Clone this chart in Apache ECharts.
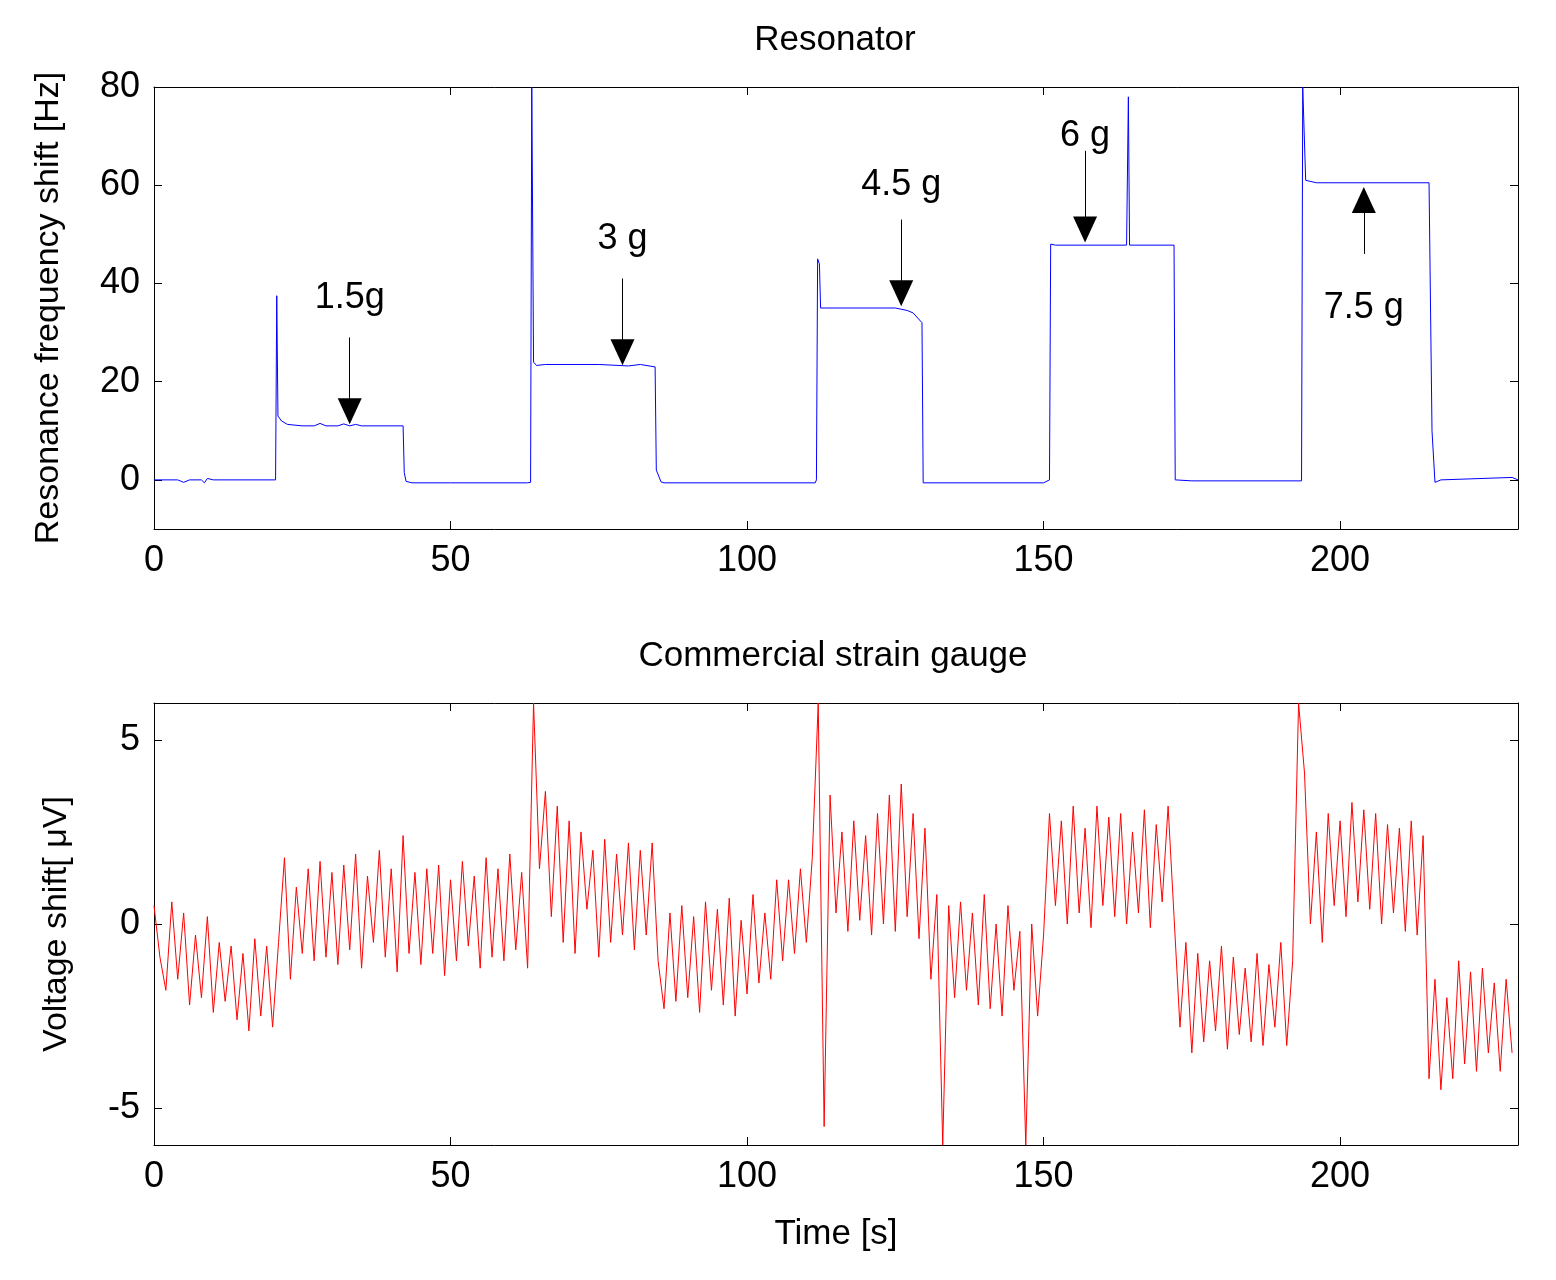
<!DOCTYPE html>
<html>
<head>
<meta charset="UTF-8">
<script src="https://cdn.jsdelivr.net/npm/echarts@6/dist/echarts.min.js"></script>
<style>body{margin:0;background:#fff}#c{width:1556px;height:1280px}</style>
</head>
<body>
<div id="c"></div>
<script>
// resonator frequency shift [t, Hz]
const resonator = [[0,0],[4,0],[5,-0.5],[6,0],[8,0],[8.5,-0.6],[9,0.3],[10,0],[20.5,0],[20.7,37.5],[20.9,13],[21.5,12],[22.5,11.3],[25,11],[27,11],[28,11.5],[29,11],[31,11],[32,11.4],[33,11],[34,11.3],[35,11],[42,11],[42.2,1.5],[42.5,-0.3],[43.5,-0.6],[50,-0.6],[63,-0.6],[63.5,-0.5],[63.7,80],[64,24],[64.5,23.3],[66,23.5],[75,23.5],[80,23.2],[82,23.5],[84.5,23],[84.7,2],[85.5,-0.4],[86,-0.6],[100,-0.6],[111.5,-0.6],[111.7,0],[111.9,45],[112.2,44],[112.4,35],[125,35],[127,34.5],[128,34],[129.5,32],[129.7,-0.6],[150,-0.6],[151,0],[151.2,48],[152,47.8],[164,47.8],[164.3,78],[164.5,47.8],[172,47.8],[172.2,0],[175,-0.2],[193.5,-0.2],[193.7,80],[194.2,61],[196,60.5],[215,60.5],[215.5,10],[216,-0.5],[217,0],[229,0.5],[230,0]];
// strain gauge voltage, one value per second from t=0
const gauge = [0.5,-0.9,-1.8,0.6,-1.5,0.3,-2.2,-0.3,-2.0,0.2,-2.4,-0.5,-2.1,-0.6,-2.6,-0.8,-2.9,-0.4,-2.5,-0.6,-2.8,
-0.5,1.8,-1.5,1.0,-0.8,1.5,-1.0,1.7,-0.9,1.4,-1.1,1.6,-0.7,1.9,-1.2,1.3,-0.5,2.0,-0.9,1.5,-1.3,2.4,-0.8,
1.4,-1.1,1.5,-0.8,1.6,-1.4,1.2,-1.0,1.7,-0.6,1.3,-1.2,1.8,-0.9,1.5,-1.0,1.9,-0.7,1.4,-1.2,
6,
1.5,3.6,0.2,3.2,-0.5,2.8,-0.8,2.5,0.4,2.0,-0.9,2.3,-0.5,1.9,-0.3,2.2,-0.7,2.0,-0.3,2.2,
-1.0,-2.3,0.3,-2.1,0.5,-2.0,0.2,-2.4,0.6,-1.8,0.4,-2.2,0.7,-2.5,0.1,-1.9,0.8,-1.6,0.3,-1.5,1.2,-1.0,1.2,-0.8,1.5,-0.5,1.8,
6,-5.5,
3.5,0.3,2.5,-0.2,2.8,0.1,2.4,-0.3,3.0,0.0,3.5,-0.2,3.8,0.2,3.0,-0.4,2.6,
-1.5,0.8,-6,0.5,-2.0,0.6,-1.8,0.3,-2.2,0.8,-2.3,0.0,-2.5,0.5,-1.8,-0.2,-6,0.0,-2.5,-0.3,
3.0,0.5,2.8,0.0,3.2,0.3,2.6,-0.1,3.2,0.5,2.9,0.2,3.0,0.0,2.5,0.3,3.1,-0.1,2.7,0.6,3.2,0.2,
-2.8,-0.5,-3.5,-0.8,-3.2,-1.0,-2.9,-0.6,-3.4,-0.9,-3.0,-1.2,-3.2,-0.8,-3.3,-1.1,-2.8,-0.5,-3.3,-1.0,
6,
4.1,0.0,2.5,-0.5,3.0,0.5,2.8,0.2,3.3,0.6,3.1,0.4,3.0,0.0,2.7,0.3,2.6,-0.2,2.8,-0.3,2.4,
-4.2,-1.5,-4.5,-2.0,-4.2,-1.0,-3.8,-1.3,-4.0,-1.2,-3.5,-1.6,-4.0,-1.5,-3.5];
// annotations: label, x, arrow from y, arrow to y, label y
const marks = [['1.5g',33,29,14,37],['3 g',79,41,26,49],['4.5 g',126,53,38,60],['6 g',157,67,51,70],['7.5 g',204,46,57,35]];
const topTicks = [0,20,40,60,80];
const bottomTicks = [-5,0,5];

const F = 'Liberation Sans, Arial, sans-serif';
const axLine = {lineStyle:{color:'#000',width:1}};
function xAx(grid, show){
  return {type:'value',gridIndex:grid,min:0,max:230,interval:50,position:show?'bottom':'top',
    axisLine:{show:true,onZero:false,...axLine},axisTick:{inside:true,length:8,lineStyle:{color:'#000'}},
    axisLabel:{show:show,color:'#000',fontSize:36,fontFamily:F,margin:14,
      formatter:v=>v===230?'':v},splitLine:{show:false},
    name:show&&grid===1?'Time [s]':'',nameLocation:'middle',nameGap:72,nameTextStyle:{color:'#000',fontSize:35,fontFamily:F}};
}
function yAx(grid, show, min, max, ticks, name){
  return {type:'value',gridIndex:grid,min:min,max:max,position:show?'left':'right',
    axisLine:{show:true,onZero:false,...axLine},
    axisTick:{inside:true,length:8,customValues:ticks,lineStyle:{color:'#000'}},
    axisLabel:{show:show,color:'#000',fontSize:36,fontFamily:F,margin:14,customValues:ticks},splitLine:{show:false},
    name:show?name:'',nameLocation:'middle',nameGap:grid===0?88:80,nameTextStyle:{color:'#000',fontSize:34,fontFamily:F}};
}
const markLines = marks.map(m => [{coord:[m[1],m[2]]},{coord:[m[1],m[3]]}]);
const markLabels = marks.map(m => ({coord:[m[1],m[4]],value:m[0]}));
const chart = echarts.init(document.getElementById('c'));
chart.setOption({
  animation:false,
  title:[{text:'Resonator',left:830,textAlign:'center',top:18,textStyle:{fontSize:35,fontWeight:'normal',color:'#000',fontFamily:F}},
         {text:'Commercial strain gauge',left:828,textAlign:'center',top:634,textStyle:{fontSize:35,fontWeight:'normal',color:'#000',fontFamily:F}}],
  grid:[{left:154,top:87,width:1364,height:442},{left:154,top:703,width:1364,height:442}],
  xAxis:[xAx(0,true),xAx(0,false),xAx(1,true),xAx(1,false)],
  yAxis:[yAx(0,true,-10,80,topTicks,'Resonance frequency shift [Hz]'),yAx(0,false,-10,80,topTicks,''),
         yAx(1,true,-6,6,bottomTicks,'Voltage shift[ μV]'),yAx(1,false,-6,6,bottomTicks,'')],
  series:[
    {type:'line',xAxisIndex:0,yAxisIndex:0,data:resonator,showSymbol:false,
     lineStyle:{color:'#0000ff',width:1},clip:true,
     markLine:{silent:true,symbol:['none','triangle'],symbolSize:[24,26],label:{show:false},
       lineStyle:{color:'#000',width:1,type:'solid'},itemStyle:{color:'#000'},data:markLines},
     markPoint:{silent:true,symbolSize:0,data:markLabels,
       label:{show:true,position:'inside',formatter:p=>p.value,color:'#000',fontSize:36,fontFamily:F}}},
    {type:'line',xAxisIndex:2,yAxisIndex:2,data:gauge.map((v,i)=>[i,v]),showSymbol:false,
     lineStyle:{color:'#ff0000',width:1},clip:true}
  ]
});
</script>
</body>
</html>
